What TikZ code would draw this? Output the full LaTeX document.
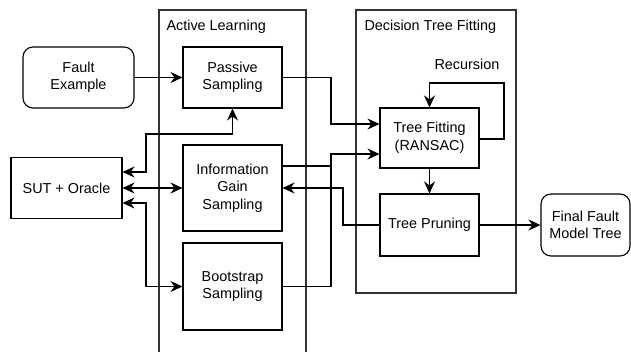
\documentclass[tikz,border=0pt]{standalone}
\usepackage{fontspec}
\setmainfont{Liberation Sans}
\usetikzlibrary{arrows.meta}
\begin{document}
\begin{tikzpicture}[x=1pt,y=-1pt,
  every node/.style={font=\fontsize{14.4}{17.5}\selectfont, align=center},
  box/.style={draw, line width=1.1pt, inner sep=0pt},
  rbox/.style={box, rounded corners=10pt},
  container/.style={draw=black!80, line width=1.1pt},
  conn/.style={line width=1.1pt},
  arr/.style={conn, -{Stealth[length=12pt,width=11pt,inset=4pt]}},
  barr/.style={conn, {Stealth[length=12pt,width=11pt,inset=4pt]}-{Stealth[length=12pt,width=11pt,inset=4pt]}}]
\useasboundingbox (0,0) rectangle (631,352);
% containers
\draw[container] (159,353) -- (159,10) -- (306,10) -- (306,353);
\draw[container] (356,10) rectangle (516,293);
\node[anchor=west] (altitle) at (163,27) {Active Learning};
\node[anchor=west] (dttitle) at (361,27) {Decision Tree Fitting};
\node (rec) at (467,64) {Recursion};
% nodes
\node[rbox, minimum width=111pt, minimum height=61pt] (fe) at (78.5,77.5) {Fault\\Example};
\node[box, minimum width=99pt, minimum height=61pt] (ps) at (232.5,77.5) {Passive\\Sampling};
\node[box, minimum width=99pt, minimum height=86pt] (ig) at (232.5,188) {Information\\Gain\\Sampling};
\node[box, minimum width=99pt, minimum height=87pt] (bs) at (232.5,286.5) {Bootstrap\\Sampling};
\node[box, minimum width=111pt, minimum height=61pt] (sut) at (66.5,188) {SUT + Oracle};
\node[box, minimum width=99pt, minimum height=60pt] (tf) at (429.5,138) {Tree Fitting\\(RANSAC)};
\node[box, minimum width=99pt, minimum height=62pt] (tp) at (429.5,225) {Tree Pruning};
\node[rbox, minimum width=89pt, minimum height=62pt] (ff) at (585.5,225) {Final Fault\\Model Tree};
% connectors
\draw[arr] (fe) -- (ps);
\draw[arr] (ps.east) -- (331,77.5) -- (331,124) -- ([yshift=14pt]tf.west);
\draw[arr] (bs.east) -- (331,286.5) -- (331,154) -- ([yshift=-16pt]tf.west);
\draw[conn] ([yshift=22pt]ig.east) -- (331,166);
\draw[arr] (tp.west) -- (343,225) -- (343,188) -- (ig.east);
\draw[arr] (tf) -- (tp);
\draw[arr] (tp) -- (ff);
\draw[arr] ([yshift=-1pt]tf.east) -- (504,139) -- (504,83) -- (429.5,83) -- (tf.north);
\draw[barr] ([yshift=16pt]sut.east) -- (146,172) -- (146,134) -- (232.5,134) -- (ps.south);
\draw[barr] (sut.east) -- (ig.west);
\draw[barr] ([yshift=-15pt]sut.east) -- (146,203) -- (146,286.5) -- (bs.west);
\end{tikzpicture}
\end{document}
